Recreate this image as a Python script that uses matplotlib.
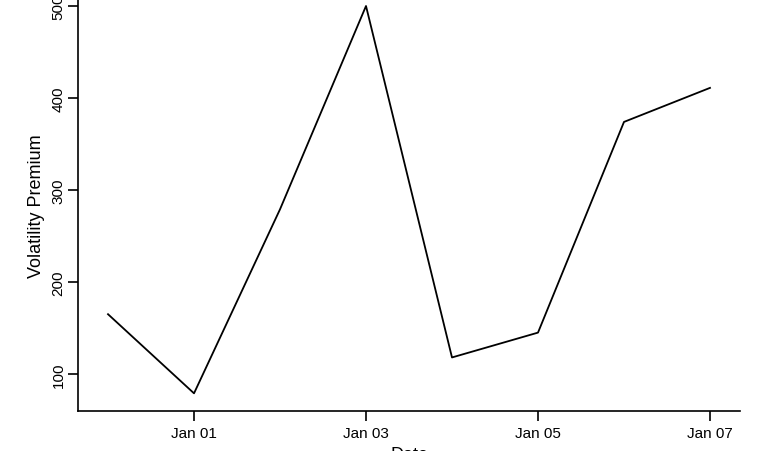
import matplotlib
matplotlib.use("Agg")
import matplotlib.pyplot as plt
import matplotlib.dates as mdates
import numpy as np
import pandas as pd

dates = pd.date_range("2024-12-31", "2025-01-07", freq="D")
premium = [165, 79, 279, 500, 118, 145, 374, 411]
yticks = [100, 200, 300, 400, 500]
xtick_dates = pd.to_datetime(["2025-01-01", "2025-01-03", "2025-01-05", "2025-01-07"])

plt.rcParams['font.family'] = ['Liberation Sans', 'DejaVu Sans']

W, H = 768, 452
fig = plt.figure(figsize=(W / 100, H / 100), dpi=100)
# axes box in pixels: left 78, right 740, top 0, bottom 412
ax = fig.add_axes([78 / W, (H - 412) / H, (740 - 78) / W, 412 / H])

ax.plot(dates, premium, color="black", lw=1.3)

ax.set_ylim(59.8, 507.6)
ax.set_xlim(mdates.date2num(pd.Timestamp("2025-01-01")) - 1.349,
            mdates.date2num(pd.Timestamp("2025-01-07")) + 0.349)

ax.set_yticks(yticks)
ax.set_yticklabels([str(v) for v in yticks], rotation=90, va="center")
ax.set_xticks(xtick_dates)
ax.xaxis.set_major_formatter(mdates.DateFormatter("%b %d"))

ax.spines["top"].set_visible(False)
ax.spines["right"].set_visible(False)
for s in ["left", "bottom"]:
    ax.spines[s].set_linewidth(1.2)
ax.tick_params(axis="both", direction="out", length=7, width=1.2, labelsize=11)
ax.tick_params(axis="y", pad=2)
ax.tick_params(axis="x", pad=4)

ax.set_ylabel("Volatility Premium", fontsize=13)
ax.yaxis.set_label_coords(-33 / (740 - 78), 0.5)
ax.set_xlabel("Date", fontsize=13, labelpad=4)

fig.savefig("out.png", dpi=100)
